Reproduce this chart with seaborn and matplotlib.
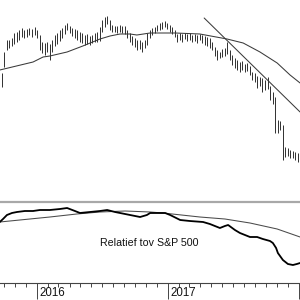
import numpy as np
import pandas as pd
import matplotlib
matplotlib.use("Agg")
import matplotlib.pyplot as plt
import matplotlib.dates as mdates
import matplotlib.transforms as mtransforms
import seaborn as sns

# ---------------- data ----------------
week_dates = pd.date_range("2015-09-25", periods=119, freq="W-FRI")

weekly_high = [26.05, 29.20, 31.00, 31.00, 31.30, 32.05, 32.20, 32.50, 32.80, 32.50,
               32.65, 32.80, 32.65, 32.95, 32.50, 31.75, 30.70, 30.55, 30.70, 30.40,
               31.00, 31.75, 32.05, 32.50, 32.80, 33.25, 33.55, 33.10, 32.80, 32.65,
               32.50, 32.20, 32.05, 31.75, 31.90, 31.60, 31.75, 32.05, 32.20, 32.95,
               34.00, 34.45, 34.60, 34.00, 33.25, 33.10, 33.10, 33.25, 33.10, 33.10,
               32.50, 32.05, 31.60, 31.30, 31.00, 31.00, 30.70, 31.00, 32.05, 32.50,
               32.80, 32.95, 33.25, 33.55, 33.70, 33.85, 33.55, 33.25, 32.95, 32.50,
               31.90, 32.05, 31.90, 32.05, 31.90, 32.05, 31.75, 31.90, 31.75, 31.90,
               31.75, 31.60, 31.45, 31.30, 30.70, 29.95, 29.50, 29.20, 29.65, 29.80,
               30.70, 29.50, 28.75, 28.30, 28.00, 27.70, 27.85, 27.40, 27.55, 27.10,
               26.20, 26.05, 25.60, 25.45, 25.30, 25.00, 25.45, 24.10, 23.20, 22.45,
               19.00, 18.85, 18.25, 14.95, 14.80, 14.50, 14.35, 14.20, 14.05]

weekly_low = [23.95, 26.95, 29.50, 29.80, 30.10, 30.40, 30.70, 31.00, 31.45, 31.30,
              31.45, 31.75, 31.45, 31.75, 31.30, 29.50, 29.05, 28.75, 29.20, 28.00,
              29.20, 30.10, 30.40, 30.85, 31.30, 31.90, 32.50, 32.05, 31.60, 31.30,
              31.00, 30.70, 30.55, 30.25, 30.40, 30.25, 30.55, 30.70, 30.70, 30.85,
              32.20, 32.95, 33.40, 32.50, 32.20, 32.20, 32.05, 32.20, 32.05, 31.90,
              31.30, 30.70, 30.25, 29.95, 29.50, 29.65, 29.20, 29.80, 30.25, 31.30,
              31.75, 32.05, 32.35, 32.50, 32.65, 32.95, 32.65, 32.20, 31.90, 31.45,
              30.70, 31.00, 30.70, 31.15, 30.85, 31.00, 30.70, 30.85, 30.55, 31.00,
              30.55, 30.25, 30.10, 29.80, 29.50, 28.60, 28.00, 28.30, 28.45, 28.60,
              28.90, 28.00, 27.25, 26.80, 26.50, 26.20, 26.50, 26.20, 26.35, 25.75,
              25.00, 24.70, 23.80, 24.10, 23.20, 23.50, 23.65, 22.00, 21.40, 17.05,
              17.05, 17.50, 13.00, 13.45, 13.60, 13.30, 13.30, 13.00, 12.70]

ma_dates = pd.to_datetime([
    "2015-09-19", "2015-12-21", "2016-01-18", "2016-02-06", "2016-03-25",
    "2016-05-08", "2016-06-25", "2016-07-23", "2016-08-20", "2016-09-17",
    "2016-10-06", "2016-11-12", "2017-01-21", "2017-03-31", "2017-06-15",
    "2017-07-30", "2017-09-15", "2017-11-02", "2017-12-08", "2018-01-05"])
ma_values = [26.50, 27.70, 28.45, 28.60, 29.20, 30.10, 31.15, 31.60, 31.90, 31.90,
             31.75, 32.05, 32.05, 31.90, 31.15, 30.55, 29.20, 27.55, 25.75, 24.55]

trend_dates = pd.to_datetime(["2017-04-12", "2018-01-05"])
trend_values = [34.30, 20.20]

rs_dates = pd.to_datetime([
    "2015-09-19", "2015-09-28", "2015-10-09", "2015-10-23", "2015-11-06",
    "2015-11-28", "2015-12-21", "2016-01-09", "2016-02-06", "2016-03-05",
    "2016-03-25", "2016-04-16", "2016-04-30", "2016-05-28", "2016-06-25",
    "2016-07-15", "2016-08-06", "2016-08-20", "2016-09-17", "2016-10-15",
    "2016-11-03", "2016-11-12", "2016-12-10", "2016-12-24", "2017-01-07",
    "2017-02-04", "2017-03-03", "2017-04-09", "2017-04-28", "2017-05-26",
    "2017-06-09", "2017-06-18", "2017-07-07", "2017-07-21", "2017-08-18",
    "2017-09-07", "2017-09-23", "2017-10-13", "2017-10-21", "2017-10-30",
    "2017-11-04", "2017-11-18", "2017-12-02", "2017-12-16", "2017-12-27",
    "2018-01-05"])
rs_values = [0.88, 0.91, 0.95, 0.97, 0.98, 0.99, 0.99, 1.00, 1.00, 1.01,
             1.02, 0.99, 0.97, 0.98, 0.99, 1.00, 0.98, 0.97, 0.95, 0.93,
             0.95, 0.97, 0.97, 0.97, 0.95, 0.90, 0.89, 0.88, 0.86, 0.82,
             0.84, 0.85, 0.80, 0.77, 0.73, 0.73, 0.71, 0.69, 0.67, 0.62,
             0.57, 0.50, 0.46, 0.45, 0.46, 0.47]

rs_ma_dates = pd.to_datetime([
    "2015-09-19", "2016-02-06", "2016-04-21", "2016-06-25", "2016-09-03",
    "2016-11-12", "2016-12-18", "2017-03-31", "2017-06-09", "2017-08-18",
    "2017-11-02", "2018-01-05"])
rs_ma_values = [0.88, 0.93, 0.96, 0.98, 0.99, 0.98, 0.97, 0.93, 0.91, 0.87, 0.81, 0.73]

year_labels = ["2016", "2017"]
rs_label = "Relatief tov S&P 500"

# ---------------- style ----------------
sns.set_style("white")
plt.rcParams["font.family"] = ["Liberation Sans", "DejaVu Sans"]

fig = plt.figure(figsize=(3, 3), dpi=100)
fig.patch.set_facecolor("white")

x_left = pd.Timestamp("2015-09-19 14:00")
x_right = pd.Timestamp("2018-01-04 19:00")

# price panel
ax1 = fig.add_axes([0, 1 - 201 / 300, 1, 201 / 300])
ax1.vlines(week_dates, weekly_low, weekly_high, color="#303030", lw=0.7)
sns.lineplot(x=ma_dates, y=ma_values, ax=ax1, color="#3a3a3a", lw=0.75)
sns.lineplot(x=trend_dates, y=trend_values, ax=ax1, color="#3a3a3a", lw=0.75)
ax1.set_xlim(x_left, x_right)
ax1.set_ylim(37 - 0.15 * 201, 37)
ax1.set_axis_off()

# relative strength panel
ax2 = fig.add_axes([0, 17 / 300, 1, 81 / 300])
sns.lineplot(x=rs_ma_dates, y=rs_ma_values, ax=ax2, color="#4a4a4a", lw=0.75)
sns.lineplot(x=rs_dates, y=rs_values, ax=ax2, color="black", lw=1.3)
ax2.set_xlim(x_left, x_right)
ax2.set_ylim(0.27, 1.08)
for side in ["left", "right"]:
    ax2.spines[side].set_visible(False)
ax2.spines["top"].set_color("#a8a8a8")
ax2.spines["top"].set_linewidth(1.6)
ax2.spines["bottom"].set_color("#444444")
ax2.spines["bottom"].set_linewidth(0.8)
ax2.set_yticks([])
ax2.set_xlabel("")
ax2.set_ylabel("")

ax2.xaxis.set_major_locator(mdates.YearLocator())
ax2.xaxis.set_minor_locator(mdates.MonthLocator())
ax2.xaxis.set_major_formatter(plt.NullFormatter())
ax2.tick_params(axis="x", which="minor", direction="out", length=3, width=0.7,
                color="#444444", bottom=True)
ax2.tick_params(axis="x", which="major", direction="out", length=11.5, width=0.7,
                color="#444444", bottom=True)

label_tr = mtransforms.offset_copy(ax2.get_xaxis_transform(), fig=fig,
                                   x=2, y=-3.5, units="dots")
for yl in year_labels:
    ax2.text(pd.Timestamp(f"{yl}-01-01"), 0, yl, transform=label_tr,
             ha="left", va="top", fontsize=8.3, color="#111111")

fig.text(99.5 / 300, 1 - 242.5 / 300, rs_label, ha="left", va="center",
         fontsize=7.7, color="#111111")

fig.savefig("out.png", dpi=100, facecolor="white")
